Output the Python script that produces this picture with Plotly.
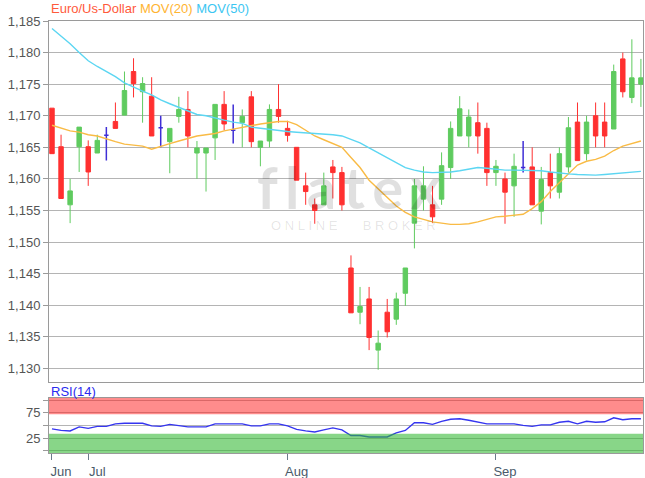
import plotly.graph_objects as go

# ---------------- data ----------------
candle_index = list(range(66))
month_labels = ["Jun", "Jul", "Aug", "Sep"]
month_index = [0, 4, 26, 49]

opens = [1.1712, 1.1651, 1.1559, 1.1651, 1.1651, 1.1641, 1.1669, 1.1691, 1.1701, 1.1770,
         1.1738, 1.1731, 1.1681, 1.1659, 1.1699, 1.1710, 1.1641, 1.1641, 1.1665, 1.1718,
         1.1677, 1.1689, 1.1730, 1.1650, 1.1660, 1.1710, 1.1680, 1.1650, 1.1589, 1.1559,
         1.1559, 1.1619, 1.1610, 1.1459, 1.1389, 1.1410, 1.1329, 1.1389, 1.1378, 1.1419,
         1.1530, 1.1568, 1.1559, 1.1568, 1.1618, 1.1668, 1.1668, 1.1689, 1.1680, 1.1610,
         1.1600, 1.1589, 1.1618, 1.1619, 1.1549, 1.1610, 1.1579, 1.1619, 1.1690, 1.1640,
         1.1700, 1.1690, 1.1679, 1.1790, 1.1729, 1.1750]
highs = [1.1712, 1.1670, 1.1600, 1.1682, 1.1661, 1.1670, 1.1682, 1.1721, 1.1770, 1.1791,
         1.1761, 1.1761, 1.1700, 1.1680, 1.1730, 1.1739, 1.1660, 1.1649, 1.1718, 1.1739,
         1.1718, 1.1710, 1.1739, 1.1660, 1.1718, 1.1750, 1.1692, 1.1650, 1.1610, 1.1569,
         1.1610, 1.1630, 1.1619, 1.1479, 1.1429, 1.1429, 1.1360, 1.1410, 1.1420, 1.1459,
         1.1600, 1.1620, 1.1589, 1.1642, 1.1691, 1.1731, 1.1710, 1.1721, 1.1689, 1.1630,
         1.1610, 1.1640, 1.1660, 1.1650, 1.1619, 1.1640, 1.1650, 1.1698, 1.1721, 1.1700,
         1.1721, 1.1721, 1.1781, 1.1800, 1.1821, 1.1790]
lows = [1.1640, 1.1569, 1.1530, 1.1611, 1.1589, 1.1641, 1.1629, 1.1680, 1.1701, 1.1729,
        1.1689, 1.1668, 1.1650, 1.1609, 1.1689, 1.1650, 1.1600, 1.1580, 1.1630, 1.1677,
        1.1656, 1.1650, 1.1650, 1.1620, 1.1650, 1.1689, 1.1659, 1.1598, 1.1559, 1.1529,
        1.1559, 1.1569, 1.1550, 1.1388, 1.1370, 1.1329, 1.1298, 1.1349, 1.1369, 1.1399,
        1.1490, 1.1550, 1.1530, 1.1559, 1.1600, 1.1668, 1.1650, 1.1640, 1.1589, 1.1589,
        1.1529, 1.1540, 1.1610, 1.1559, 1.1528, 1.1569, 1.1569, 1.1610, 1.1629, 1.1629,
        1.1650, 1.1650, 1.1679, 1.1729, 1.1720, 1.1714]
closes = [1.1640, 1.1569, 1.1581, 1.1682, 1.1611, 1.1661, 1.1669, 1.1680, 1.1740, 1.1751,
          1.1751, 1.1668, 1.1681, 1.1680, 1.1710, 1.1668, 1.1649, 1.1649, 1.1718, 1.1687,
          1.1677, 1.1699, 1.1659, 1.1660, 1.1710, 1.1699, 1.1669, 1.1598, 1.1580, 1.1550,
          1.1589, 1.1610, 1.1559, 1.1388, 1.1398, 1.1349, 1.1340, 1.1358, 1.1410, 1.1459,
          1.1589, 1.1589, 1.1540, 1.1621, 1.1680, 1.1711, 1.1698, 1.1668, 1.1610, 1.1620,
          1.1579, 1.1620, 1.1618, 1.1559, 1.1599, 1.1589, 1.1640, 1.1681, 1.1629, 1.1690,
          1.1668, 1.1668, 1.1770, 1.1738, 1.1760, 1.1760]

mov20 = [1.1685, 1.1680, 1.1676, 1.1674, 1.1670, 1.1668, 1.1663, 1.1659, 1.1655, 1.1653,
         1.1652, 1.1647, 1.1652, 1.1656, 1.1660, 1.1664, 1.1668, 1.1670, 1.1672, 1.1676,
         1.1679, 1.1682, 1.1685, 1.1687, 1.1689, 1.1691, 1.1691, 1.1686, 1.1677, 1.1668,
         1.1662, 1.1656, 1.1650, 1.1634, 1.1618, 1.1598, 1.1584, 1.1570, 1.1557, 1.1547,
         1.1540, 1.1536, 1.1532, 1.1530, 1.1528, 1.1528, 1.1529, 1.1532, 1.1536, 1.1540,
         1.1541, 1.1542, 1.1544, 1.1553, 1.1564, 1.1580, 1.1594, 1.1608, 1.1622, 1.1628,
         1.1631, 1.1636, 1.1645, 1.1652, 1.1656, 1.1660]
mov50 = [1.1838, 1.1826, 1.1814, 1.1800, 1.1787, 1.1778, 1.1770, 1.1762, 1.1752, 1.1745,
         1.1739, 1.1733, 1.1725, 1.1719, 1.1713, 1.1707, 1.1702, 1.1700, 1.1696, 1.1693,
         1.1690, 1.1688, 1.1682, 1.1680, 1.1678, 1.1676, 1.1675, 1.1674, 1.1673, 1.1673,
         1.1672, 1.1670, 1.1668, 1.1663, 1.1657, 1.1649, 1.1641, 1.1633, 1.1625, 1.1618,
         1.1614, 1.1611, 1.1610, 1.1610, 1.1611, 1.1613, 1.1616, 1.1618, 1.1617, 1.1615,
         1.1614, 1.1614, 1.1614, 1.1614, 1.1613, 1.1611, 1.1609, 1.1608, 1.1607, 1.1606,
         1.1606, 1.1607, 1.1608, 1.1609, 1.1611, 1.1612]
rsi14 = [43, 40, 39, 47, 44, 48, 48, 53, 54, 54,
         54, 49, 48, 52, 50, 47, 47, 47, 53, 53,
         53, 53, 49, 49, 53, 53, 49, 42, 39, 37,
         41, 45, 41, 30, 30, 27, 27, 27, 35, 40,
         55, 55, 52, 58, 62, 63, 60, 56, 53, 53,
         53, 53, 50, 48, 51, 51, 56, 58, 53, 58,
         56, 57, 65, 61, 63, 63]

price_ticks = [1.130, 1.135, 1.140, 1.145, 1.150, 1.155, 1.160, 1.165, 1.170, 1.175, 1.180, 1.185]
price_tick_labels = ["1,130", "1,135", "1,140", "1,145", "1,150", "1,155",
                     "1,160", "1,165", "1,170", "1,175", "1,180", "1,185"]
rsi_ticks = [0, 25, 50, 75, 100]
rsi_tick_labels = ["", "25", "", "75", ""]
overbought = 72
oversold = 33.5

# ---------------- styles ----------------
GREEN = "#5fcb5f"
RED = "#ff3030"
BLUE_DOJI = "#3f2ed6"
ORANGE = "#f9bb45"
CYAN = "#5cd6f2"
RSI_BLUE = "#3535f0"
GRID = "#b4b4b4"
FRAME = "#9a9a9a"
TXT = "#555555"
FONT = "Liberation Sans"

normal = [i for i in candle_index if opens[i] != closes[i]]
doji = [i for i in candle_index if opens[i] == closes[i]]

fig = go.Figure()
fig.add_trace(go.Candlestick(
    x=normal,
    open=[opens[i] for i in normal], high=[highs[i] for i in normal],
    low=[lows[i] for i in normal], close=[closes[i] for i in normal],
    increasing=dict(line=dict(color=GREEN, width=1), fillcolor=GREEN),
    decreasing=dict(line=dict(color=RED, width=1), fillcolor=RED),
    xaxis="x", yaxis="y", showlegend=False, hoverinfo="skip"))
fig.add_trace(go.Candlestick(
    x=doji,
    open=[opens[i] for i in doji], high=[highs[i] for i in doji],
    low=[lows[i] for i in doji], close=[closes[i] for i in doji],
    increasing=dict(line=dict(color=BLUE_DOJI, width=1.5), fillcolor=BLUE_DOJI),
    decreasing=dict(line=dict(color=BLUE_DOJI, width=1.5), fillcolor=BLUE_DOJI),
    xaxis="x", yaxis="y", showlegend=False, hoverinfo="skip"))
fig.add_trace(go.Scatter(x=candle_index, y=mov20, mode="lines",
                         line=dict(color=ORANGE, width=1.4), xaxis="x", yaxis="y",
                         showlegend=False, hoverinfo="skip"))
fig.add_trace(go.Scatter(x=candle_index, y=mov50, mode="lines",
                         line=dict(color=CYAN, width=1.4), xaxis="x", yaxis="y",
                         showlegend=False, hoverinfo="skip"))
fig.add_trace(go.Scatter(x=candle_index, y=rsi14, mode="lines",
                         line=dict(color=RSI_BLUE, width=1.4), xaxis="x2", yaxis="y2",
                         showlegend=False, hoverinfo="skip"))

xr = [-0.33, 65.23]
axis_common = dict(showline=True, mirror=True, linecolor=FRAME, linewidth=1, zeroline=False)

fig.update_layout(
    width=645, height=478,
    margin=dict(l=49, r=2, t=21, b=25, autoexpand=False),
    paper_bgcolor="white", plot_bgcolor="white",
    font=dict(family=FONT, size=13, color=TXT),
    xaxis=dict(domain=[0, 1], anchor="y", range=xr, showticklabels=False, showgrid=False,
               ticks="", rangeslider=dict(visible=False), **axis_common),
    yaxis=dict(domain=[0.1636, 1], anchor="x", range=[1.1278, 1.185],
               tickmode="array", tickvals=price_ticks, ticktext=price_tick_labels,
               ticks="outside", ticklen=5, tickcolor=FRAME,
               showgrid=True, gridcolor=GRID, gridwidth=1,
               tickfont=dict(size=13, color=TXT), **axis_common),
    xaxis2=dict(domain=[0, 1], anchor="y2", range=xr, tickmode="array",
                tickvals=month_index, ticktext=month_labels, ticks="outside", ticklen=6,
                tickcolor="#6a7a8a", ticklabelshift=9, showgrid=False,
                tickfont=dict(size=13, color="#4a5a6a"), **axis_common),
    yaxis2=dict(domain=[0, 0.128], anchor="x2", range=[-4.6, 104.6],
                tickmode="array", tickvals=rsi_ticks, ticktext=rsi_tick_labels,
                ticks="outside", ticklen=5, tickcolor=FRAME,
                showgrid=True, gridcolor=GRID, gridwidth=1,
                tickfont=dict(size=13, color=TXT), **axis_common),
)

# RSI zones
fig.add_shape(type="rect", xref="paper", yref="y2", x0=0, x1=1, y0=overbought, y1=104.6,
              fillcolor="rgba(255,25,25,0.5)", line=dict(width=0), layer="above")
fig.add_shape(type="rect", xref="paper", yref="y2", x0=0, x1=1, y0=-4.6, y1=oversold,
              fillcolor="rgba(50,185,50,0.58)", line=dict(width=0), layer="above")

# Titles / legend texts
fig.add_annotation(xref="paper", yref="paper", x=0, y=1.030, xanchor="left", yanchor="middle",
                   showarrow=False, font=dict(family=FONT, size=13),
                   text=("<span style='color:#ff5a3c'>Euro/Us-Dollar</span> "
                         "<span style='color:#ffb431'>MOV(20)</span> "
                         "<span style='color:#3cc6f2'>MOV(50)</span>"))
fig.add_annotation(xref="paper", yref="paper", x=0, y=0.142, xanchor="left", yanchor="middle",
                   showarrow=False, font=dict(family=FONT, size=13, color="#2a2af0"),
                   text="RSI(14)")

# Watermark
fig.add_annotation(xref="paper", yref="paper", x=0.505, y=0.618, xanchor="center",
                   yanchor="middle", showarrow=False,
                   font=dict(family="Lato", size=58, color="rgba(0,0,0,0.12)"),
                   text="<b>f\u2009l\u2009a\u2009t\u2009e\u2009x</b>")
fig.add_annotation(xref="paper", yref="paper", x=0.512, y=0.526, xanchor="center",
                   yanchor="middle", showarrow=False,
                   font=dict(family=FONT, size=13, color="rgba(0,0,0,0.11)"),
                   text="O\u00a0N\u00a0L\u00a0I\u00a0N\u00a0E\u00a0\u00a0\u00a0\u00a0\u00a0\u00a0\u00a0B\u00a0R\u00a0O\u00a0K\u00a0E\u00a0R")

# remove the browser's default 8px page margin so the figure fills the window exactly
fig.write_html("out.html",
               config={"displayModeBar": False},
               post_script="document.body.style.margin='0';document.body.style.overflow='hidden';")
